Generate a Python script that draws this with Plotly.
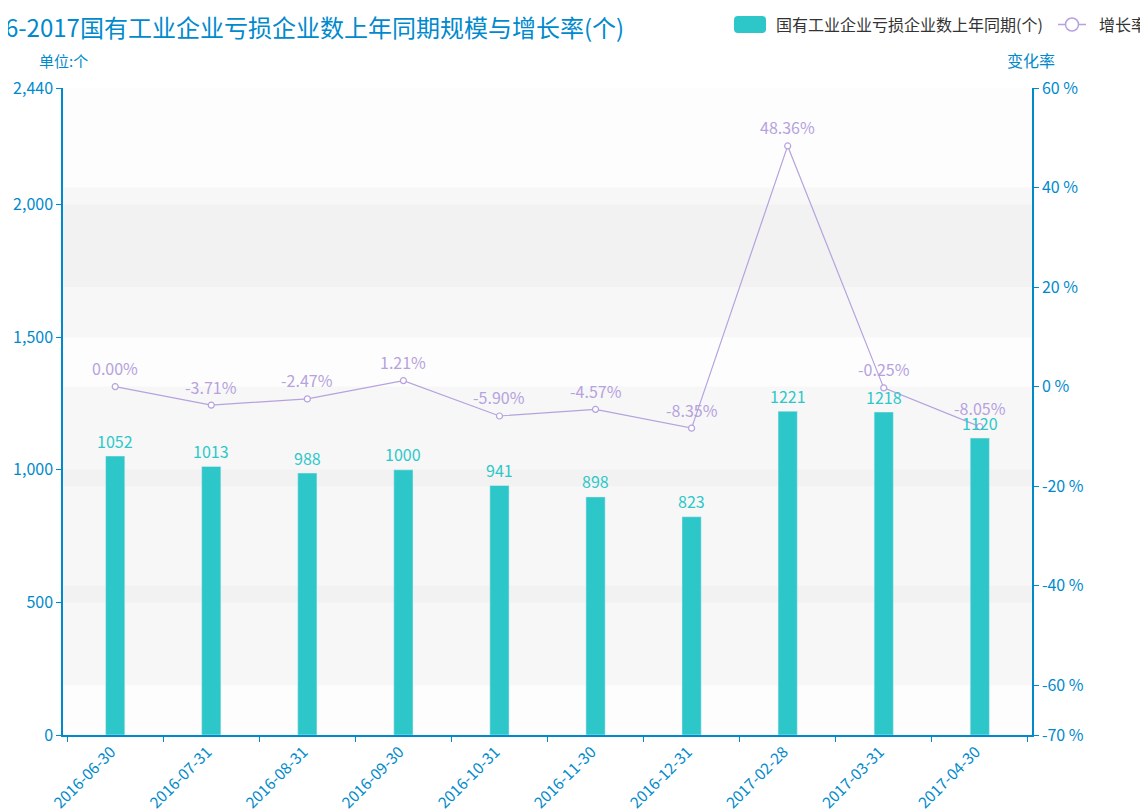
import plotly.graph_objects as go

categories = ["2016-06-30", "2016-07-31", "2016-08-31", "2016-09-30", "2016-10-31",
              "2016-11-30", "2016-12-31", "2017-02-28", "2017-03-31", "2017-04-30"]
loss_counts = [1052, 1013, 988, 1000, 941, 898, 823, 1221, 1218, 1120]
growth_rates = [0.00, -3.71, -2.47, 1.21, -5.90, -4.57, -8.35, 48.36, -0.25, -8.05]

left_ticks = [0, 500, 1000, 1500, 2000, 2440]
right_ticks = [-70, -60, -40, -20, 0, 20, 40, 60]

title_text = "2016-2017国有工业企业亏损企业数上年同期规模与增长率(个)"
bar_name = "国有工业企业亏损企业数上年同期(个)"
line_name = "增长率"

AXIS = "#008acd"
BAR = "#2ec7c9"
LINE = "#b6a2de"
FONT = "Noto Sans CJK SC, Noto Sans, sans-serif"

# page is offset by the browser's 8px body margin
OFF = 8
W, H = 1148 - OFF, 811 - OFF
L, R, T, B = 63 - OFF, 116, 88 - OFF, 76
PW, PH = W - L - R, H - T - B


def px(x):
    return (x - OFF - L) / PW


def py(y):
    return (H + OFF - B - y) / PH


fig = go.Figure()
fig.add_trace(go.Bar(
    x=categories, y=loss_counts, name=bar_name, marker_color=BAR,
    showlegend=False, yaxis="y", hoverinfo="x+y"))
fig.add_trace(go.Scatter(
    x=categories, y=growth_rates, name=line_name, yaxis="y2",
    mode="lines+markers",
    line=dict(color=LINE, width=1.2),
    marker=dict(symbol="circle", size=6, color="white", line=dict(color=LINE, width=1.2)),
    cliponaxis=False, showlegend=False))

shapes = []
band_col = ["rgba(250,250,250,0.1)", "rgba(200,200,200,0.13)"]
for i in range(len(left_ticks) - 1):
    shapes.append(dict(type="rect", xref="paper", yref="y", x0=0, x1=1,
                       y0=left_ticks[i], y1=left_ticks[i + 1],
                       fillcolor=band_col[i % 2], line=dict(width=0), layer="below"))
for i in range(len(right_ticks) - 1):
    shapes.append(dict(type="rect", xref="paper", yref="y2", x0=0, x1=1,
                       y0=right_ticks[i], y1=right_ticks[i + 1],
                       fillcolor=band_col[i % 2], line=dict(width=0), layer="below"))

# manual legend
x0, x1, y0, y1 = px(734), px(766), py(33), py(16)
r = 4 / PW
ry = 4 / PH
shapes.append(dict(type="path", xref="paper", yref="paper",
                   path=(f"M{x0+r},{y0} L{x1-r},{y0} Q{x1},{y0} {x1},{y0+ry} "
                         f"L{x1},{y1-ry} Q{x1},{y1} {x1-r},{y1} L{x0+r},{y1} "
                         f"Q{x0},{y1} {x0},{y1-ry} L{x0},{y0+ry} Q{x0},{y0} {x0+r},{y0} Z"),
                   fillcolor=BAR, line=dict(width=0)))
shapes.append(dict(type="line", xref="paper", yref="paper",
                   x0=px(1058), x1=px(1086), y0=py(24.5), y1=py(24.5),
                   line=dict(color=LINE, width=1.5)))
shapes.append(dict(type="circle", xref="paper", yref="paper",
                   x0=px(1065.5), x1=px(1078.5), y0=py(31), y1=py(18),
                   fillcolor="white", line=dict(color=LINE, width=1.5)))

annotations = [
    dict(text=title_text, xref="paper", yref="paper", x=px(626), y=py(27),
         xanchor="right", yanchor="middle", showarrow=False,
         font=dict(size=24, color=AXIS, family=FONT)),
    dict(text=bar_name, xref="paper", yref="paper", x=px(774), y=py(24.5),
         xanchor="left", yanchor="middle", showarrow=False,
         font=dict(size=16, color="#333333", family=FONT)),
    dict(text=line_name, xref="paper", yref="paper", x=px(1097), y=py(24.5),
         xanchor="left", yanchor="middle", showarrow=False,
         font=dict(size=16, color="#333333", family=FONT)),
    dict(text="单位:个", xref="paper", yref="paper", x=px(63), y=py(60),
         xanchor="center", yanchor="middle", showarrow=False,
         font=dict(size=15, color=AXIS, family=FONT)),
    dict(text="变化率", xref="paper", yref="paper", x=px(1031), y=py(60),
         xanchor="center", yanchor="middle", showarrow=False,
         font=dict(size=16, color=AXIS, family=FONT)),
]
for c, v in zip(categories, loss_counts):
    annotations.append(dict(text=str(v), x=c, y=v, xref="x", yref="y",
                            yshift=15.5, xanchor="center", yanchor="middle",
                            showarrow=False, font=dict(size=16, color=BAR, family=FONT)))
for c, v in zip(categories, growth_rates):
    annotations.append(dict(text=f"{v:.2f}%", x=c, y=v, xref="x", yref="y2",
                            yshift=18.5, xanchor="center", yanchor="middle",
                            showarrow=False, font=dict(size=16, color=LINE, family=FONT)))

fig.update_layout(
    width=W, height=H,
    margin=dict(l=L, r=R, t=T, b=B, autoexpand=False),
    paper_bgcolor="white", plot_bgcolor="white",
    bargap=0.8,
    shapes=shapes, annotations=annotations,
    font=dict(family=FONT),
    xaxis=dict(type="category", tickangle=-45, tickson="boundaries",
               ticks="outside", ticklen=5, tickcolor=AXIS,
               showline=True, linecolor=AXIS, linewidth=1.5,
               ticklabelshift=-4,
               tickfont=dict(size=15.5, color=AXIS, family=FONT),
               showgrid=False, zeroline=False),
    yaxis=dict(range=[0, 2440], tickvals=left_ticks,
               ticktext=[f"{v:,}" for v in left_ticks],
               ticks="outside", ticklen=5, tickcolor=AXIS,
               showline=True, linecolor=AXIS, linewidth=1.5,
               tickfont=dict(size=16, color=AXIS, family=FONT),
               showgrid=False, zeroline=False),
    yaxis2=dict(range=[-70, 60], tickvals=right_ticks,
                ticktext=[f"{v} %" for v in right_ticks],
                overlaying="y", side="right",
                ticks="outside", ticklen=5, tickcolor=AXIS,
                showline=True, linecolor=AXIS, linewidth=1.5,
                tickfont=dict(size=16, color=AXIS, family=FONT),
                showgrid=False, zeroline=False),
)

fig.write_html("out.html")
